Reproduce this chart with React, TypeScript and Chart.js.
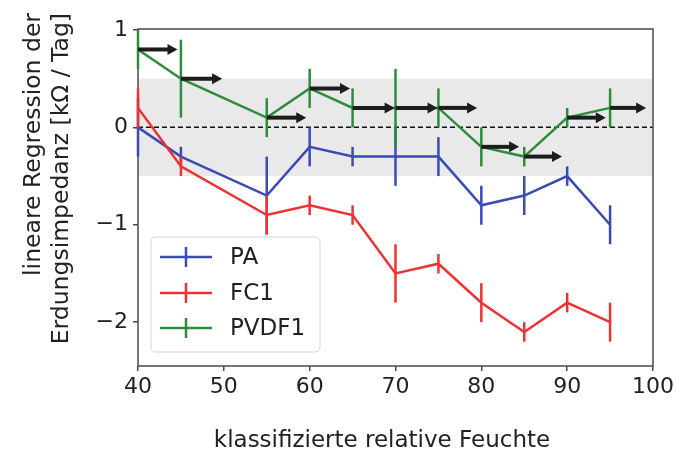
import { useEffect, useRef } from "react";
import { Chart, registerables } from "chart.js";

Chart.register(...registerables);

const humidity = [40, 45, 55, 60, 65, 70, 75, 80, 85, 90, 95];
const paValues = [0, -0.3, -0.7, -0.2, -0.3, -0.3, -0.3, -0.8, -0.7, -0.5, -1.0];
const paErrors = [0.3, 0.1, 0.4, 0.2, 0.1, 0.3, 0.2, 0.2, 0.2, 0.1, 0.2];
const fc1Values = [0.2, -0.4, -0.9, -0.8, -0.9, -1.5, -1.4, -1.8, -2.1, -1.8, -2.0];
const fc1Errors = [0.2, 0.1, 0.2, 0.1, 0.1, 0.3, 0.1, 0.2, 0.1, 0.1, 0.2];
const pvdf1Values = [0.8, 0.5, 0.1, 0.4, 0.2, 0.2, 0.2, -0.2, -0.3, 0.1, 0.2];
const pvdf1Errors = [0.2, 0.4, 0.2, 0.2, 0.2, 0.4, 0.2, 0.2, 0.1, 0.1, 0.2];
const arrowLengths = [4.6, 4.8, 4.6, 4.7, 4.9, 4.9, 4.5, 4.4, 4.4, 4.5, 4.2];

const seriesNames = ["PA", "FC1", "PVDF1"];
const seriesColors = ["#3a4bb3", "#ec3232", "#2e8c3e"];

const xTicks = [40, 50, 60, 70, 80, 90, 100];
const yTicks = [-2, -1, 0, 1];
const yTickLabels = ["−2", "−1", "0", "1"];
const bandLimits = [-0.5, 0.5];

const xTitle = "klassifizierte relative Feuchte";
const yTitleLines = ["lineare Regression der", "Erdungsimpedanz [kΩ / Tag]"];

const FONT = "'DejaVu Sans', sans-serif";

export default function App() {
  const ref = useRef<HTMLCanvasElement | null>(null);

  useEffect(() => {
    document.body.style.margin = "0";
    const canvas = ref.current;
    if (!canvas) return;

    const valueSets = [paValues, fc1Values, pvdf1Values];
    const errorSets = [paErrors, fc1Errors, pvdf1Errors];

    const datasets = valueSets.map((vals, i) => ({
      label: seriesNames[i],
      data: humidity.map((x, j) => ({ x, y: vals[j] })),
      borderColor: seriesColors[i],
      backgroundColor: seriesColors[i],
      borderWidth: 2.5,
      pointRadius: 0,
      tension: 0,
      fill: false,
      order: 3 - i,
    }));

    const decorations = {
      id: "decorations",
      beforeDatasetsDraw(chart: any) {
        const { ctx, chartArea } = chart;
        const ys = chart.scales.y;
        ctx.save();
        const yTop = ys.getPixelForValue(bandLimits[1]);
        const yBot = ys.getPixelForValue(bandLimits[0]);
        ctx.fillStyle = "#e9e9e9";
        ctx.fillRect(chartArea.left, yTop, chartArea.right - chartArea.left, yBot - yTop);
        const y0 = ys.getPixelForValue(0);
        ctx.strokeStyle = "#111";
        ctx.lineWidth = 1.5;
        ctx.setLineDash([5, 3]);
        ctx.beginPath();
        ctx.moveTo(chartArea.left, y0);
        ctx.lineTo(chartArea.right, y0);
        ctx.stroke();
        ctx.setLineDash([]);
        ctx.strokeStyle = "#4a4a4a";
        ctx.lineWidth = 1.5;
        ctx.strokeRect(chartArea.left, chartArea.top, chartArea.right - chartArea.left, chartArea.bottom - chartArea.top);
        ctx.restore();
      },
      afterDatasetDraw(chart: any, args: any) {
        const { ctx } = chart;
        const xs = chart.scales.x;
        const ys = chart.scales.y;
        const i = args.index;
        const vals = valueSets[i];
        const errs = errorSets[i];
        ctx.save();
        ctx.strokeStyle = seriesColors[i];
        ctx.lineWidth = 2.5;
        humidity.forEach((x, j) => {
          const px = xs.getPixelForValue(x);
          ctx.beginPath();
          ctx.moveTo(px, ys.getPixelForValue(vals[j] + errs[j]));
          ctx.lineTo(px, ys.getPixelForValue(vals[j] - errs[j]));
          ctx.stroke();
        });
        ctx.restore();
      },
      afterDatasetsDraw(chart: any) {
        const { ctx } = chart;
        const xs = chart.scales.x;
        const ys = chart.scales.y;
        ctx.save();
        ctx.strokeStyle = "#1c1c1c";
        ctx.fillStyle = "#1c1c1c";
        humidity.forEach((x, j) => {
          const x1 = xs.getPixelForValue(x);
          const x2 = xs.getPixelForValue(x + arrowLengths[j]);
          const py = ys.getPixelForValue(pvdf1Values[j]);
          const head = 10;
          ctx.lineWidth = 4;
          ctx.beginPath();
          ctx.moveTo(x1, py);
          ctx.lineTo(x2 - head + 1, py);
          ctx.stroke();
          ctx.beginPath();
          ctx.moveTo(x2, py);
          ctx.lineTo(x2 - head, py - 5.5);
          ctx.lineTo(x2 - head, py + 5.5);
          ctx.closePath();
          ctx.fill();
        });
        ctx.restore();
      },
      afterDraw(chart: any) {
        const { ctx } = chart;
        ctx.save();
        const bx = 151, by = 237, bw = 169, bh = 115, r = 5;
        ctx.beginPath();
        ctx.moveTo(bx + r, by);
        ctx.lineTo(bx + bw - r, by);
        ctx.quadraticCurveTo(bx + bw, by, bx + bw, by + r);
        ctx.lineTo(bx + bw, by + bh - r);
        ctx.quadraticCurveTo(bx + bw, by + bh, bx + bw - r, by + bh);
        ctx.lineTo(bx + r, by + bh);
        ctx.quadraticCurveTo(bx, by + bh, bx, by + bh - r);
        ctx.lineTo(bx, by + r);
        ctx.quadraticCurveTo(bx, by, bx + r, by);
        ctx.closePath();
        ctx.fillStyle = "rgba(255,255,255,0.85)";
        ctx.fill();
        ctx.strokeStyle = "#d6d6d6";
        ctx.lineWidth = 1;
        ctx.stroke();
        const rows = [257, 293, 328];
        ctx.font = `23px ${FONT}`;
        ctx.textBaseline = "middle";
        ctx.textAlign = "left";
        seriesNames.forEach((name, i) => {
          const yy = rows[i];
          ctx.strokeStyle = seriesColors[i];
          ctx.lineWidth = 2.5;
          ctx.beginPath();
          ctx.moveTo(160, yy);
          ctx.lineTo(212, yy);
          ctx.moveTo(186, yy - 10);
          ctx.lineTo(186, yy + 10);
          ctx.stroke();
          ctx.fillStyle = "#222";
          ctx.fillText(name, 230, yy + 1);
        });
        ctx.fillStyle = "#222";
        ctx.font = `23px ${FONT}`;
        ctx.textAlign = "center";
        ctx.textBaseline = "middle";
        ctx.fillText(xTitle, 382, 441);
        ctx.save();
        ctx.rotate(-Math.PI / 2);
        ctx.textAlign = "right";
        ctx.font = `23.5px ${FONT}`;
        ctx.fillText(yTitleLines[0], -13, 34);
        ctx.fillText(yTitleLines[1], -13, 62);
        ctx.restore();
        ctx.restore();
      },
    };

    const chart = new Chart(canvas, {
      type: "line",
      data: { datasets: datasets as any },
      options: {
        animation: false,
        responsive: false,
        devicePixelRatio: 1,
        layout: { padding: { left: 0, top: 29, right: 23, bottom: 0 } },
        plugins: { legend: { display: false }, tooltip: { enabled: false } },
        scales: {
          x: {
            type: "linear",
            min: 40,
            max: 100,
            afterBuildTicks: (s: any) => {
              s.ticks = xTicks.map((v) => ({ value: v }));
            },
            afterFit: (s: any) => {
              s.height = 87;
            },
            ticks: {
              font: { family: FONT, size: 22 },
              color: "#222",
              padding: 3,
              maxRotation: 0,
              autoSkip: false,
            },
            grid: { drawOnChartArea: false, drawTicks: true, tickLength: 5, color: "#4a4a4a", lineWidth: 1.5 },
            border: { display: false },
          },
          y: {
            type: "linear",
            min: -2.45,
            max: 1.01,
            afterBuildTicks: (s: any) => {
              s.ticks = yTicks.map((v) => ({ value: v }));
            },
            afterFit: (s: any) => {
              s.width = 138;
            },
            ticks: {
              font: { family: FONT, size: 22 },
              color: "#222",
              padding: 5,
              autoSkip: false,
              callback: (v: any) => {
                const k = yTicks.indexOf(Number(v));
                return k >= 0 ? yTickLabels[k] : "";
              },
            },
            grid: { drawOnChartArea: false, drawTicks: true, tickLength: 5, color: "#4a4a4a", lineWidth: 1.5 },
            border: { display: false },
          },
        },
      },
      plugins: [decorations as any],
    });

    return () => chart.destroy();
  }, []);

  return (
    <div style={{ width: 677, height: 453 }}>
      <canvas ref={ref} width={677} height={453} style={{ display: "block" }} />
    </div>
  );
}
